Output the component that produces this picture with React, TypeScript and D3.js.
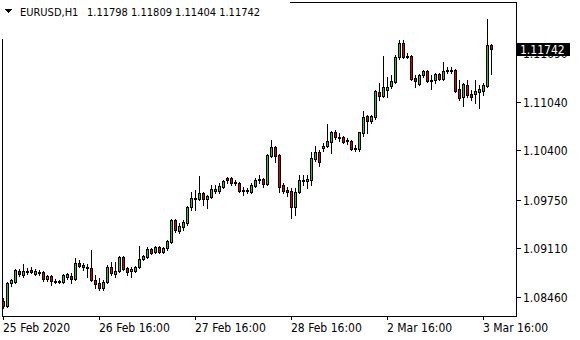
import React from "react";
import * as d3 from "d3";

const symbolTitle = "EURUSD,H1";
const titleValues = "1.11798 1.11809 1.11404 1.11742";

const openP = [
  1.08407, 1.08341, 1.08645, 1.08659, 1.08804, 1.08751, 1.08791, 1.08817, 1.08764, 1.08791,
  1.08791, 1.08698, 1.08738, 1.08672, 1.08659, 1.08659, 1.08725, 1.08738, 1.08698, 1.0891,
  1.08857, 1.08857, 1.08844, 1.08685, 1.08645, 1.08579, 1.08659, 1.08857, 1.08764, 1.08804,
  1.08989, 1.08844, 1.08804, 1.08804, 1.08857, 1.08963, 1.08989, 1.09095, 1.09055, 1.09122,
  1.09055, 1.09108, 1.09188, 1.09479, 1.09333, 1.09386, 1.09439, 1.09651, 1.09757, 1.09757,
  1.09836, 1.09757, 1.09783, 1.09862, 1.09862, 1.09915, 1.10035, 1.10035, 1.09982, 1.09968,
  1.09876, 1.09862, 1.09849, 1.09929, 1.10008, 1.10021, 1.09955, 1.10326, 1.10445, 1.10339,
  1.09942, 1.09876, 1.09862, 1.09651, 1.09849, 1.09995, 1.09995, 1.10008, 1.10286, 1.10378,
  1.10431, 1.10458, 1.10511, 1.10643, 1.10577, 1.10577, 1.10524, 1.10524, 1.10431, 1.10418,
  1.1063, 1.10855, 1.10789, 1.10842, 1.11172, 1.11119, 1.11199, 1.11252, 1.11305, 1.11635,
  1.11821, 1.11649, 1.11649, 1.11358, 1.11278, 1.11397, 1.1145, 1.11318, 1.11331, 1.1141,
  1.11344, 1.1145, 1.11463, 1.11463, 1.11212, 1.11106, 1.11265, 1.11146, 1.11146, 1.11172,
  1.11186, 1.11252, 1.11798,
];
const highP = [
  1.08447, 1.08659, 1.08698, 1.0883, 1.0883, 1.08897, 1.08844, 1.08857, 1.0883, 1.08817,
  1.08804, 1.08751, 1.08751, 1.08698, 1.08685, 1.08764, 1.08778, 1.08778, 1.08976, 1.0895,
  1.0891, 1.08897, 1.09082, 1.08751, 1.08711, 1.08685, 1.08883, 1.08923, 1.08923, 1.09002,
  1.09002, 1.08857, 1.08857, 1.0887, 1.09135, 1.09016, 1.09122, 1.09108, 1.09135, 1.09135,
  1.09122, 1.09214, 1.09492, 1.09492, 1.09439, 1.09479, 1.09664, 1.09849, 1.09876, 1.10061,
  1.09849, 1.0981, 1.09942, 1.09942, 1.09968, 1.10008, 1.10048, 1.10048, 1.10008, 1.09982,
  1.09915, 1.09902, 1.09968, 1.10035, 1.10074, 1.10035, 1.10352, 1.10537, 1.10458, 1.10352,
  1.09968, 1.09915, 1.09902, 1.09902, 1.10074, 1.10074, 1.10074, 1.10378, 1.10458, 1.10405,
  1.10498, 1.10749, 1.10656, 1.1067, 1.1063, 1.1059, 1.10564, 1.10537, 1.10471, 1.10643,
  1.10921, 1.10868, 1.10868, 1.11199, 1.11291, 1.11649, 1.11371, 1.11397, 1.11662, 1.1186,
  1.1186, 1.11688, 1.11662, 1.11397, 1.1141, 1.11463, 1.11463, 1.11397, 1.11424, 1.11424,
  1.11569, 1.11503, 1.11503, 1.11477, 1.11331, 1.11291, 1.11331, 1.11199, 1.11331, 1.11265,
  1.11291, 1.12138, 1.11809,
];
const lowP = [
  1.08315, 1.08328, 1.08606, 1.08645, 1.08738, 1.08725, 1.08764, 1.08778, 1.08751, 1.08751,
  1.08672, 1.08672, 1.08619, 1.08645, 1.08645, 1.08645, 1.08698, 1.08645, 1.08685, 1.08857,
  1.08817, 1.08725, 1.08672, 1.08579, 1.08553, 1.08553, 1.08645, 1.08751, 1.08725, 1.08791,
  1.08817, 1.08751, 1.08725, 1.08791, 1.08844, 1.0895, 1.08976, 1.09029, 1.09042, 1.09042,
  1.09042, 1.09082, 1.09174, 1.0932, 1.09307, 1.09346, 1.09413, 1.09611, 1.09611, 1.09743,
  1.09677, 1.09638, 1.0977, 1.09836, 1.09836, 1.09902, 1.09968, 1.09942, 1.09942, 1.09849,
  1.0981, 1.09836, 1.09836, 1.09915, 1.09968, 1.09915, 1.09942, 1.10312, 1.10246, 1.09849,
  1.09836, 1.09796, 1.09505, 1.09545, 1.09836, 1.09942, 1.09902, 1.09942, 1.10259, 1.10193,
  1.10392, 1.10445, 1.10365, 1.10551, 1.10524, 1.10498, 1.10484, 1.10405, 1.10392, 1.10392,
  1.1059, 1.1063, 1.10762, 1.10815, 1.11067, 1.11106, 1.11106, 1.11225, 1.11291, 1.11609,
  1.11622, 1.11622, 1.11331, 1.11239, 1.11265, 1.11371, 1.11305, 1.11212, 1.11291, 1.11331,
  1.11331, 1.11424, 1.11424, 1.11172, 1.11067, 1.10987, 1.11106, 1.11067, 1.11027, 1.10961,
  1.11133, 1.11239, 1.11404,
];
const closeP = [
  1.08341, 1.08645, 1.08685, 1.08817, 1.08764, 1.08804, 1.08804, 1.08791, 1.08804, 1.08778,
  1.08698, 1.08738, 1.08672, 1.08659, 1.08672, 1.08751, 1.08764, 1.08698, 1.0891, 1.0887,
  1.08883, 1.08844, 1.08685, 1.08632, 1.08579, 1.08659, 1.08857, 1.08778, 1.08804, 1.08989,
  1.0883, 1.08791, 1.0883, 1.08857, 1.08963, 1.09002, 1.09095, 1.09042, 1.09122, 1.09055,
  1.09108, 1.09201, 1.09479, 1.09346, 1.09399, 1.09452, 1.09651, 1.0977, 1.0977, 1.09836,
  1.09757, 1.09796, 1.09889, 1.09889, 1.09929, 1.09995, 1.10008, 1.09968, 1.09968, 1.09862,
  1.09862, 1.09876, 1.09942, 1.10008, 1.10021, 1.09955, 1.10339, 1.10445, 1.10326, 1.09915,
  1.09862, 1.09849, 1.09651, 1.09849, 1.10008, 1.10008, 1.10021, 1.10299, 1.10378, 1.10246,
  1.10458, 1.10524, 1.10643, 1.10577, 1.10564, 1.10511, 1.10537, 1.10418, 1.10418, 1.10643,
  1.10842, 1.10789, 1.10855, 1.11186, 1.11119, 1.11239, 1.11239, 1.11318, 1.11635, 1.11821,
  1.11635, 1.1164, 1.11344, 1.11318, 1.11397, 1.1145, 1.11318, 1.11331, 1.1141, 1.11344,
  1.1145, 1.11463, 1.1145, 1.11186, 1.11093, 1.11278, 1.11133, 1.11106, 1.11186, 1.11212,
  1.11265, 1.11798, 1.11742,
];

const timeTickBars = [0, 24, 48, 72, 96, 120];
const timeTickLabels = ["25 Feb 2020", "26 Feb 16:00", "27 Feb 16:00", "28 Feb 16:00", "2 Mar 16:00", "3 Mar 16:00"];
const priceTicks = [1.0846, 1.0911, 1.0975, 1.104, 1.1104, 1.1169];
const priceTickLabels = ["1.08460", "1.09110", "1.09750", "1.10400", "1.11040", "1.11690"];
const lastPrice = 1.11742;
const lastPriceLabel = "1.11742";

const W = 580;
const H = 340;
const plotRight = 516;
const plotBottom = 316;
const FONT = "Tahoma, 'DejaVu Sans Condensed', 'Liberation Sans', sans-serif";
const BULL = "#3cb43c";
const BEAR = "#e00000";

export default function App() {
  const n = openP.length;
  const x = d3.scaleLinear().domain([0, n - 1]).range([3, 3 + 4 * (n - 1)]);
  const y = d3.scaleLinear().domain([1.123896 - 0.00013231 * plotBottom, 1.123896]).range([plotBottom, 0]);

  const candles = d3.range(n).map((i) => {
    const o = openP[i], h = highP[i], l = lowP[i], c = closeP[i];
    const cx = Math.round(x(i));
    const yh = Math.round(y(h));
    const yl = Math.round(y(l));
    const top = Math.round(y(Math.max(o, c)));
    const bot = Math.round(y(Math.min(o, c)));
    const bull = c >= o;
    return (
      <g key={i}>
        <rect x={cx} y={yh} width={1} height={yl - yh + 1} fill="#000" />
        <rect x={cx - 1} y={top} width={3} height={bot - top + 1} fill="#000" />
        {bot - top > 1 && (
          <rect x={cx} y={top + 1} width={1} height={bot - top - 1} fill={bull ? BULL : BEAR} />
        )}
      </g>
    );
  });

  const yLast = y(lastPrice);

  return (
    <svg width={W} height={H} style={{ position: "fixed", left: 0, top: 0, background: "#fff" }} shapeRendering="crispEdges">
      <rect x={0} y={0} width={W} height={H} fill="#fff" />
      {/* frame */}
      <rect x={290} y={2} width={plotRight - 290 + 1} height={1} fill="#000" />
      <rect x={2} y={39} width={1} height={plotBottom - 39 + 1} fill="#000" />
      <rect x={plotRight} y={2} width={1} height={plotBottom - 2 + 1} fill="#000" />
      <rect x={2} y={plotBottom} width={plotRight - 2 + 1} height={1} fill="#000" />

      {candles}

      {/* price axis */}
      {priceTicks.map((v, i) => {
        const yy = Math.round(y(v));
        return (
          <g key={"p" + i}>
            <rect x={plotRight + 1} y={yy} width={4} height={1} fill="#000" />
            <text x={523} y={yy + 4.5} fontFamily={FONT} fontSize={12} fill="#000">
              {priceTickLabels[i]}
            </text>
          </g>
        );
      })}
      <rect x={plotRight + 1} y={Math.round(yLast) - 6} width={53} height={13} fill="#000" />
      <text x={520} y={Math.round(yLast) + 4.5} fontFamily={FONT} fontSize={12} fill="#fff">
        {lastPriceLabel}
      </text>

      {/* time axis */}
      {timeTickBars.map((b, i) => {
        const xx = Math.round(x(b));
        return (
          <g key={"t" + i}>
            <rect x={xx} y={plotBottom + 1} width={1} height={3} fill="#000" />
            <text x={xx} y={332} fontFamily={FONT} fontSize={12} fill="#000">
              {timeTickLabels[i]}
            </text>
          </g>
        );
      })}

      {/* title */}
      <path d="M5,9 L12,9 L8.5,13 Z" fill="#000" />
      <text x={20} y={16} fontFamily={FONT} fontSize={11} fill="#000">
        {symbolTitle}
      </text>
      <text x={87} y={16} fontFamily={FONT} fontSize={11} fill="#000">
        {titleValues}
      </text>
    </svg>
  );
}
